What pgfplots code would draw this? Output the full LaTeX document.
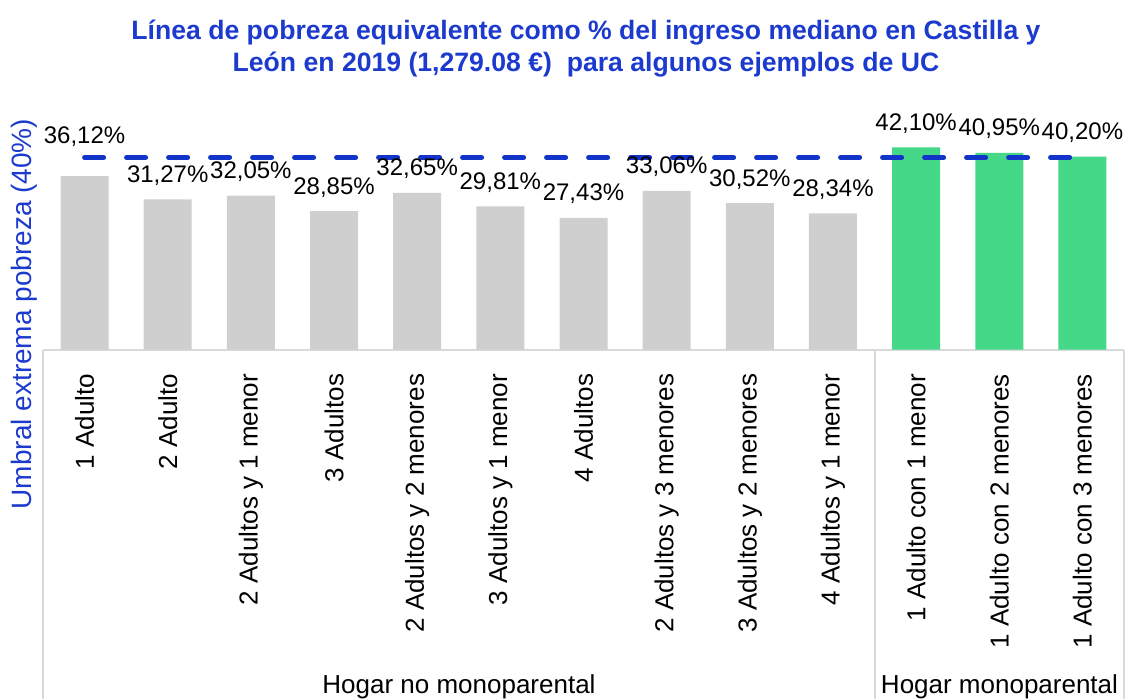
\documentclass[border=0pt]{standalone}
\usepackage{fontspec}
\setmainfont{Liberation Sans}
\usepackage{pgfplots}
\pgfplotsset{compat=1.18}
\definecolor{titleblue}{RGB}{28,58,205}
\definecolor{dashblue}{RGB}{18,52,200}
\definecolor{bargray}{RGB}{207,207,207}
\definecolor{bargreen}{RGB}{69,216,137}
\definecolor{linegray}{RGB}{217,217,217}
\begin{document}
\begin{tikzpicture}
\useasboundingbox (-21.5pt,-174.25pt) rectangle (541.5pt,174.75pt);
\begin{axis}[
  at={(0,0)}, anchor=south west,
  scale only axis, width=540.5pt, height=108pt,
  xmin=-0.5, xmax=12.5, ymin=0, ymax=45,
  axis line style={draw=none}, tick style={draw=none},
  ytick=\empty,
  xtick={0,...,12},
  xticklabels={1 Adulto,2 Adulto,2 Adultos y 1 menor,3 Adultos,2 Adultos y 2 menores,3 Adultos y 1 menor,4 Adultos,2 Adultos y 3 menores,3 Adultos y 2 menores,4 Adultos y 1 menor,1 Adulto con 1 menor,1 Adulto con 2 menores,1 Adulto con 3 menores},
  xticklabel style={rotate=90, anchor=east, font=\fontsize{13}{15}\selectfont, inner xsep=7.75pt, inner ysep=0pt},
  clip=false,
  ybar, bar width=24pt, bar shift=0pt,
]
\draw[linegray, line width=1pt] (axis cs:-0.5,0) -- (axis cs:12.5,0);
\draw[linegray, line width=1pt] (axis cs:-0.5,0) -- (axis cs:-0.5,-80);
\draw[linegray, line width=1pt] (axis cs:9.5,0) -- (axis cs:9.5,-80);
\draw[linegray, line width=1pt] (axis cs:12.5,0) -- (axis cs:12.5,-80);
% bars
\addplot[fill=bargray, draw=none] coordinates {(0,36.12) (1,31.27) (2,32.05) (3,28.85) (4,32.65) (5,29.81) (6,27.43) (7,33.06) (8,30.52) (9,28.34)};
\addplot[fill=bargreen, draw=none] coordinates {(10,42.10) (11,40.95) (12,40.20)};
% threshold line
\addplot[sharp plot, color=dashblue, line width=2.5pt, dash pattern=on 9.5pt off 11.5pt, line cap=round] coordinates {(0,40) (12,40)};
% data labels
\addplot[draw=none, fill=none,
  nodes near coords={\pgfmathprintnumber[fixed,precision=2,fixed zerofill,use comma,assume math mode=true]{\pgfplotspointmeta}\%},
  every node near coord/.style={font=\fontsize{12}{14}\selectfont, anchor=base, inner sep=0pt, yshift=16.5pt, text=black}]
  coordinates {(0,36.12)};
\addplot[draw=none, fill=none,
  nodes near coords={\pgfmathprintnumber[fixed,precision=2,fixed zerofill,use comma,assume math mode=true]{\pgfplotspointmeta}\%},
  every node near coord/.style={font=\fontsize{12}{14}\selectfont, anchor=base, inner sep=0pt, yshift=8.5pt, text=black}]
  coordinates {(1,31.27) (2,32.05) (3,28.85) (4,32.65) (5,29.81) (6,27.43) (7,33.06) (8,30.52) (9,28.34) (10,42.10) (11,40.95) (12,40.20)};
\end{axis}
\node[anchor=base, text=titleblue, font=\fontsize{13.3}{15}\selectfont\bfseries] at (271.5pt,155.25pt) {Línea de pobreza equivalente como \% del ingreso mediano en Castilla y};
\node[anchor=base, text=titleblue, font=\fontsize{13.3}{15}\selectfont\bfseries] at (271.5pt,138.9pt) {León en 2019 (1,279.08 €)\ \ para algunos ejemplos de UC};
\node[rotate=90, text=titleblue, font=\fontsize{14}{16}\selectfont] at (-9.5pt,17.75pt) {Umbral extrema pobreza (40\%)};
\node[anchor=base, font=\fontsize{13}{15}\selectfont] at (208pt,-171.75pt) {Hogar no monoparental};
\node[anchor=base, font=\fontsize{13}{15}\selectfont] at (478.25pt,-171.75pt) {Hogar monoparental};
\end{tikzpicture}
\end{document}
